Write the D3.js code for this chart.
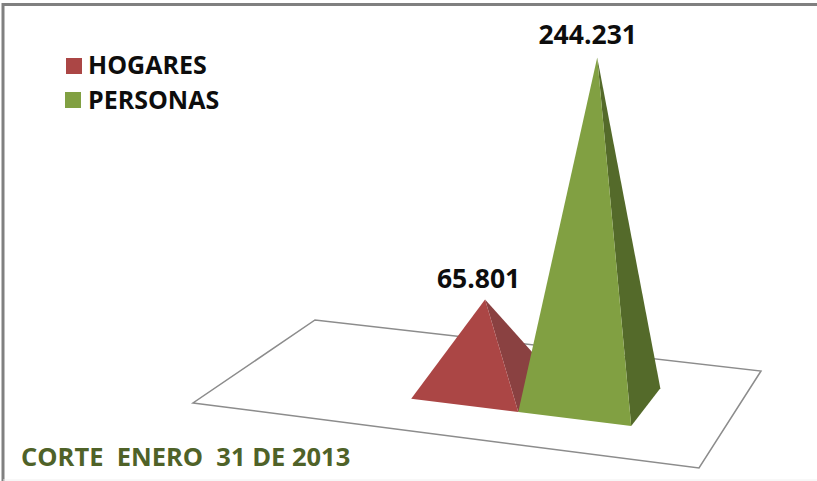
<!DOCTYPE html>
<html>
  <head>
    <meta charset="utf-8">
    <title>Hogares y personas</title>
    <script src="https://d3js.org/d3.v7.min.js"></script>
    <style>
      html, body { margin: 0; padding: 0; background: #fff; }
      svg { display: block; }
      text { font-family: "Open Sans", sans-serif; font-weight: 700; }
    </style>
  </head>
  <body>
    <div id="chart"></div>
    <script>
      // data
      const categories = ["HOGARES", "PERSONAS"];
      const values = [65801, 244231];
      const frontColors = ["#ab4645", "#81a042"];
      const sideColors = ["#8a4141", "#546a2a"];
      const note = "CORTE  ENERO  31 DE 2013";

      const width = 817;
      const height = 481;

      const svg = d3.select("#chart")
        .append("svg")
        .attr("width", width)
        .attr("height", height);

      // picture frame
      svg.append("path")
        .attr("d", "M3,481V4.5H817")
        .attr("fill", "none")
        .attr("stroke", "#808080")
        .attr("stroke-width", 3);
      svg.append("path")
        .attr("d", "M3,480H817")
        .attr("stroke", "#f0f0f0");

      // floor corners: front left, front right, back right, back left
      const floor = [[193, 403], [699, 468], [761, 371], [315, 320]];

      // maps floor coordinates (0-1, 0-1) on to the screen
      function project(u, v) {
        const fx = floor[0][0] + u * (floor[1][0] - floor[0][0]);
        const fy = floor[0][1] + u * (floor[1][1] - floor[0][1]);
        const bx = floor[3][0] + u * (floor[2][0] - floor[3][0]);
        const by = floor[3][1] + u * (floor[2][1] - floor[3][1]);
        return [fx + v * (bx - fx), fy + v * (by - fy)];
      }

      // scales, the floor is foreshortened so the slots are not quite equal
      const uScale = d3.scaleLinear().domain([0, 1, 2]).range([0.368, 0.588, 0.82]);
      const vScale = d3.scaleLinear().domain([0, 1]).range([0.32, 0.72]);
      const heightScale = d3.scaleLinear().domain([0, d3.max(values)]).range([-6, 343]);
      const lean = 0.019;

      const numberFormat = d3.formatLocale({ decimal: ",", thousands: ".", grouping: [3], currency: ["$", ""] }).format(",d");

      svg.append("polygon")
        .attr("points", floor.join(" "))
        .attr("fill", "none")
        .attr("stroke", "#8c8c8c")
        .attr("stroke-width", 1.5);

      // pyramids
      categories.forEach(function(cat, i) {
        const u0 = uScale(i);
        const u1 = uScale(i + 1);
        const centre = project((u0 + u1) / 2, vScale(0.5));
        const h = heightScale(values[i]);
        const apex = [centre[0] + h * lean, centre[1] - h];
        const frontLeft = project(u0, vScale(0));
        const frontRight = project(u1, vScale(0));
        const backRight = project(u1, vScale(1));

        svg.append("polygon")
          .attr("points", [apex, frontRight, backRight].join(" "))
          .attr("fill", sideColors[i]);
        svg.append("polygon")
          .attr("points", [apex, frontLeft, frontRight].join(" "))
          .attr("fill", frontColors[i]);

        svg.append("text")
          .attr("x", apex[0] - (i ? 9.5 : 6.5))
          .attr("y", apex[1] - (i ? 13 : 11))
          .attr("text-anchor", "middle")
          .attr("font-size", 26.5)
          .attr("fill", "#0d0d0d")
          .text(numberFormat(values[i]));
      });

      // legend
      const legend = svg.selectAll(".legend")
        .data(categories)
        .enter().append("g")
        .attr("class", "legend");
      legend.append("rect")
        .attr("x", function(d, i) { return i ? 65 : 66; })
        .attr("y", function(d, i) { return i ? 92 : 58; })
        .attr("width", 16)
        .attr("height", 16)
        .attr("fill", function(d, i) { return frontColors[i]; });
      legend.append("text")
        .attr("x", 88)
        .attr("y", function(d, i) { return i ? 109 : 74; })
        .attr("font-size", 25)
        .attr("fill", "#0d0d0d")
        .text(function(d) { return d; });

      // note
      svg.append("text")
        .attr("x", 21)
        .attr("y", 466)
        .attr("font-size", 25.5)
        .attr("fill", "#4f6228")
        .style("white-space", "pre")
        .text(note);
    </script>
  </body>
</html>
